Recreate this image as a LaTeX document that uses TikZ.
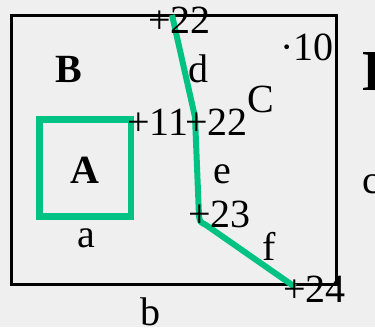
\documentclass[tikz,border=0pt]{standalone}
\usepackage{fontspec}
\setmainfont{Liberation Serif}
\usetikzlibrary{positioning}
\definecolor{routecolor}{HTML}{00C283}
\definecolor{bgcolor}{HTML}{EFEFEF}

\begin{document}
\begin{tikzpicture}[x=0.5pt, y=-0.5pt,
    lbl/.style={inner sep=0pt, anchor=base west, font=\fontsize{20}{20}\selectfont},
    boldlbl/.style={lbl, font=\fontsize{20}{20}\selectfont\bfseries},
    frame/.style={draw=black, line width=1.5pt},
    route/.style={draw=routecolor, line width=3pt}
]
    % Canvas
    \useasboundingbox (0,0) rectangle (375,327);
    \clip (0,0) rectangle (375,327);
    \fill[bgcolor] (0,0) rectangle (375,327);

    % Outer region B
    \draw[frame] (11,15) rectangle (336.5,284);

    % Region A
    \draw[route, line width=3.25pt] (39.5,119.5) rectangle (131,216.5);

    % Points on the route
    \coordinate (ptop) at (172,15);
    \coordinate (pmid) at (195,117);
    \coordinate (plow) at (199,216);
    \coordinate (pend) at (295,287);

    % Route d, e, f
    \draw[route, line join=round] (ptop) -- (pmid) -- (plow)
        .. controls (200,222) .. (206,225) -- (pend);

    % Point labels
    \node[lbl] (ltop) at (148,33)  {+22};
    \node[lbl] (lcor) at (127,135) {+11};
    \node[lbl] (lmid) at (185,135) {+22};
    \node[lbl] (llow) at (188,227) {+23};
    \node[lbl] (lend) at (283,302) {+24};
    \node[lbl] (lten) at (280,60)  {·10};

    % Region and edge names
    \node[boldlbl] (nb) at (55,82)   {B};
    \node[boldlbl] (na) at (70,183)  {A};
    \node[lbl]     (nc) at (247,112) {C};
    \node[lbl, font=\fontsize{29}{29}\selectfont\bfseries] (nd) at (362,90) {D};
    \node[lbl] (ea) at (77,247)  {a};
    \node[lbl] (eb) at (140,325) {b};
    \node[lbl] (ec) at (362,193) {c};
    \node[lbl] (ed) at (188,82)  {d};
    \node[lbl] (ee) at (213,183) {e};
    \node[lbl] (ef) at (262,260) {f};
\end{tikzpicture}
\end{document}
